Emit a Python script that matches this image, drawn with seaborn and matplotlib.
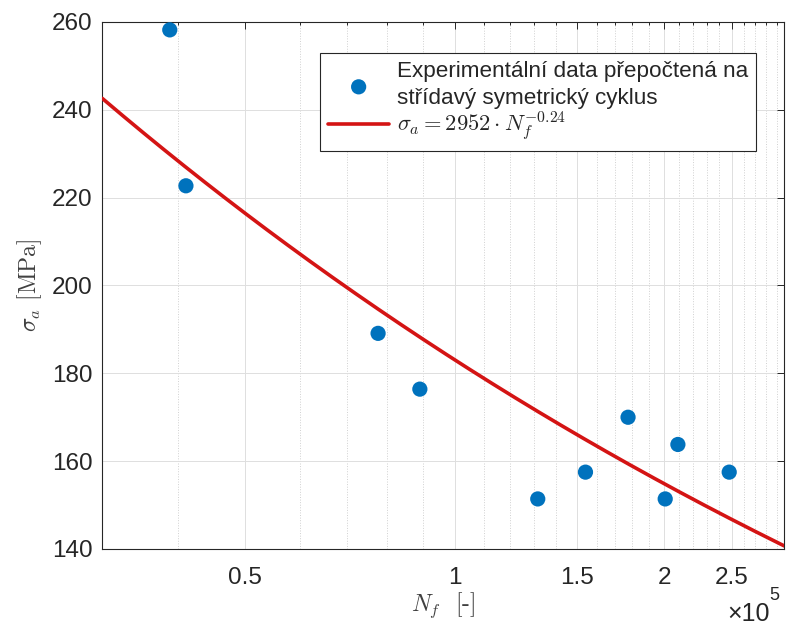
import numpy as np
import pandas as pd
import matplotlib
matplotlib.use("Agg")
import matplotlib.pyplot as plt
from matplotlib.ticker import FixedLocator, FuncFormatter, NullLocator
import seaborn as sns

# ---- data ----
cycles_N = [38960, 41100, 77600, 89100, 131600, 154100, 177400, 200600, 209200, 247900]
stress_sigma = [258.2, 222.7, 189.1, 176.4, 151.4, 157.5, 170.0, 151.4, 163.8, 157.5]

fit_coef = 2952.0
fit_exp = -0.2415

x_major_ticks = [0.5e5, 1.0e5, 1.5e5, 2.0e5, 2.5e5]
y_ticks = [140, 160, 180, 200, 220, 240, 260]

label_points = "Experimentální data přepočtená na\nstřídavý symetrický cyklus"
label_fit = r"$\sigma_a = 2952 \cdot N_f^{-0.24}$"
xlabel = r"$N_f$  [-]"
ylabel = r"$\sigma_a$ [MPa]"

# ---- build frames ----
xmin = 0.8 * min(cycles_N)
xmax = 1.2 * max(cycles_N)
df_pts = pd.DataFrame({"N": cycles_N, "sigma": stress_sigma})
N_fit = np.geomspace(xmin, xmax, 300)
df_fit = pd.DataFrame({"N": N_fit, "sigma": fit_coef * N_fit ** fit_exp})

sns.set_style("white")
plt.rcParams["font.family"] = ["Liberation Sans", "DejaVu Sans"]
plt.rcParams["mathtext.fontset"] = "cm"

fig = plt.figure(figsize=(7.87, 6.28), dpi=100)
ax = fig.add_axes([0.130, 0.1258, 0.8666, 0.8392])

dark = "#262626"
blue = "#0072BD"
red = "#D41414"

sns.scatterplot(data=df_pts, x="N", y="sigma", ax=ax, color=blue, s=120,
                edgecolor="none", label=label_points, zorder=4)
sns.lineplot(data=df_fit, x="N", y="sigma", ax=ax, color=red, linewidth=2.6,
             label=label_fit, zorder=3)

ax.set_xscale("log")
ax.set_xlim(xmin, xmax)
ax.set_ylim(140, 260)

ax.xaxis.set_major_locator(FixedLocator(x_major_ticks))
ax.xaxis.set_major_formatter(FuncFormatter(lambda v, p: f"{v/1e5:g}"))
minor = [v for v in np.arange(1e4, 3.0e5 + 1, 1e4) if v not in x_major_ticks]
ax.xaxis.set_minor_locator(FixedLocator(minor))
ax.xaxis.set_minor_formatter(FuncFormatter(lambda v, p: ""))
ax.yaxis.set_major_locator(FixedLocator(y_ticks))
ax.yaxis.set_minor_locator(NullLocator())

ax.grid(True, which="major", color="#dedede", linewidth=0.7, linestyle="-", zorder=0)
ax.grid(True, which="minor", axis="x", color="#d0d0d0", linewidth=0.7, linestyle=":", zorder=0)
ax.set_axisbelow(True)

for sp in ax.spines.values():
    sp.set_color(dark)
    sp.set_linewidth(0.8)
    sp.set_visible(True)

ax.tick_params(which="both", direction="in", top=True, right=True, color=dark,
               labelcolor=dark, width=0.7)
ax.tick_params(which="major", length=5)
ax.tick_params(which="minor", length=2.5)
ax.tick_params(axis="x", which="major", labelsize=17.5, pad=13)
ax.tick_params(axis="y", which="major", labelsize=17.5, pad=7)

ax.set_xlabel(xlabel, fontsize=17, color="#404040", family="cmr10", labelpad=1)
ax.set_ylabel(ylabel, fontsize=17, color="#404040", family="cmr10", labelpad=6)

ax.text(0.978, -0.137, "×10", transform=ax.transAxes, ha="right", va="baseline",
        fontsize=18, color=dark)
ax.text(0.978, -0.097, "5", transform=ax.transAxes, ha="left", va="baseline",
        fontsize=13, color=dark)

leg = ax.legend(loc="upper right", bbox_to_anchor=(0.9585, 0.9418), borderaxespad=0,
                fontsize=16.2, frameon=True, fancybox=False, framealpha=1,
                edgecolor=dark, handlelength=2.7, handletextpad=0.35,
                borderpad=0.35, labelspacing=0.05)
leg.get_frame().set_linewidth(0.8)
for t in leg.get_texts():
    t.set_linespacing(1.4)

fig.savefig("out.png", dpi=100)
